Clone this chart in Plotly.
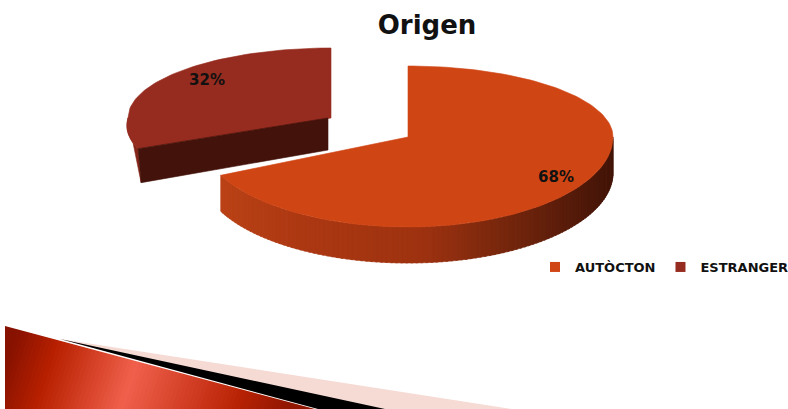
import math
import plotly.graph_objects as go

# ---- data ----
categories = ["AUTÒCTON", "ESTRANGER"]
values = [68, 32]
title_text = "Origen"

# ---- styles ----
top_colors = ["#D04514", "#962B1F"]
inner_dark = "#43120A"
slice_side = "#85261A"
side_stops = [(221, (186, 66, 22)), (300, (172, 56, 18)), (420, (158, 50, 16)),
              (520, (110, 36, 12)), (613, (66, 20, 8))]
banner_stops = [(5, (135, 18, 0)), (50, (184, 32, 0)), (135, (240, 96, 76)),
                (250, (184, 34, 4)), (320, (130, 18, 0))]
FONT = "DejaVu Sans"


def lerp(stops, x):
    if x <= stops[0][0]:
        c = stops[0][1]
    elif x >= stops[-1][0]:
        c = stops[-1][1]
    else:
        for (x0, c0), (x1, c1) in zip(stops, stops[1:]):
            if x0 <= x <= x1:
                t = (x - x0) / (x1 - x0)
                c = tuple(a + (b - a) * t for a, b in zip(c0, c1))
                break
    return "rgb(%d,%d,%d)" % tuple(round(v) for v in c)


def pt(g, deg):
    s, c = math.sin(math.radians(deg)), math.cos(math.radians(deg))
    a = g["ar"] if s > 0 else g["al"]
    b = g["bu"] if c > 0 else g["bd"]
    x, y = g["cx"] + a * s, g["cy"] - b * c
    if y > g["cy"]:
        x -= g.get("shear", 0) * (y - g["cy"])
    return x, y


def arc(g, d0, d1, n=80):
    return [pt(g, d0 + (d1 - d0) * i / n) for i in range(n + 1)]


main = dict(cx=408, cy=137, ar=205, al=207, bu=71, bd=90, depth=36)
part = dict(cx=331, cy=118, ar=204, al=203, bu=70, bd=72, depth=34, shear=0.3)

fig = go.Figure()


def poly(pts, color, line=None):
    fig.add_trace(go.Scatter(
        x=[p[0] for p in pts] + [pts[0][0]], y=[p[1] for p in pts] + [pts[0][1]],
        mode="lines", fill="toself", fillcolor=color,
        line=dict(color=line or color, width=0.6),
        hoverinfo="skip", showlegend=False))


total = sum(values)
split = 360 * values[0] / total  # first slice runs clockwise from 12 o'clock

# Exploded slice: outer side, top surface, inner face
d = part["depth"]
sx, sy = pt(part, split)
poly(arc(part, split, 270, 20) + [(sx + 3, sy + d)], slice_side)
top_pts = [(part["cx"], part["cy"])] + arc(part, split, 360)
poly(top_pts, top_colors[1])
poly([(part["cx"] - 3, part["cy"]), (sx, sy), (sx + 3, sy + d), (part["cx"] - 3, part["cy"] + d - 2)], inner_dark)

# Main slice: outer side strips then top surface
d = main["depth"]
N = 110
for i in range(N):
    a0 = 90 + (split - 90) * i / N
    a1 = 90 + (split - 90) * (i + 1.4) / N
    a1 = min(a1, split)
    p0, p1 = pt(main, a0), pt(main, a1)
    col = lerp(side_stops, (p0[0] + p1[0]) / 2)
    poly([p0, p1, (p1[0], p1[1] + d), (p0[0], p0[1] + d)], col)
poly([(main["cx"], main["cy"])] + arc(main, 0, split, 160), top_colors[0])

# Percent labels
for lx, ly, v in [(556, 178, values[0]), (207, 81, values[1])]:
    fig.add_trace(go.Scatter(
        x=[lx], y=[ly], mode="text", text=[f"{round(100 * v / total)}%"],
        textfont=dict(family=FONT, size=15, color="#111111", weight="bold"),
        textposition="middle center", hoverinfo="skip", showlegend=False))

# Legend entries
for name, col in zip(categories, top_colors):
    fig.add_trace(go.Scatter(
        x=[None], y=[None], mode="markers", name=name,
        marker=dict(symbol="square", size=10, color=col)))

# Decorative banner at the bottom
shapes = []


def sh(pts, color):
    path = "M" + " L".join(f"{x:.1f},{y:.1f}" for x, y in pts) + " Z"
    shapes.append(dict(type="path", path=path, fillcolor=color,
                       line=dict(width=0), xref="x", yref="y", layer="below"))


Y0, Y1 = 326, 420
tilt = 0.33
for i in range(0, 86):
    x = -40 + i * 4
    sh([(x + (360 - Y0) * tilt, Y0), (500, Y0), (500, Y1), (x + (360 - Y1) * tilt, Y1)],
       lerp(banner_stops, x))
# cover everything outside the triangle
sh([(-50, 300), (5, 300), (5, 326), (315, 409), (315, 430), (800, 430), (800, 300)], "#FFFFFF")
sh([(-50, 300), (5, 300), (5, 430), (-50, 430)], "#FFFFFF")
sh([(60, 339), (512, 409), (512, 420), (320, 420), (318, 409)], "#F6DAD4")
sh([(60, 339), (385, 409), (385, 420), (320, 420), (318, 409)], "#000000")

fig.update_layout(
    width=788, height=409,
    margin=dict(l=0, r=0, t=0, b=0, autoexpand=False),
    paper_bgcolor="white", plot_bgcolor="white",
    title=dict(text=title_text, x=427 / 788, xanchor="center", y=1 - 25 / 409, yanchor="middle",
               font=dict(family=FONT, size=26, color="#111111", weight="bold")),
    xaxis=dict(range=[0, 788], visible=False, fixedrange=True),
    yaxis=dict(range=[409, 0], visible=False, fixedrange=True),
    legend=dict(orientation="h", x=535 / 788, y=1 - 267 / 409, xanchor="left", yanchor="middle",
                font=dict(family=FONT, size=13, color="#111111", weight="bold"),
                itemwidth=30, bgcolor="rgba(0,0,0,0)", tracegroupgap=0),
    shapes=shapes,
)
fig.write_html("out.html", config=dict(displayModeBar=False),
               post_script="document.body.style.margin='0';document.documentElement.style.overflow='hidden';")
